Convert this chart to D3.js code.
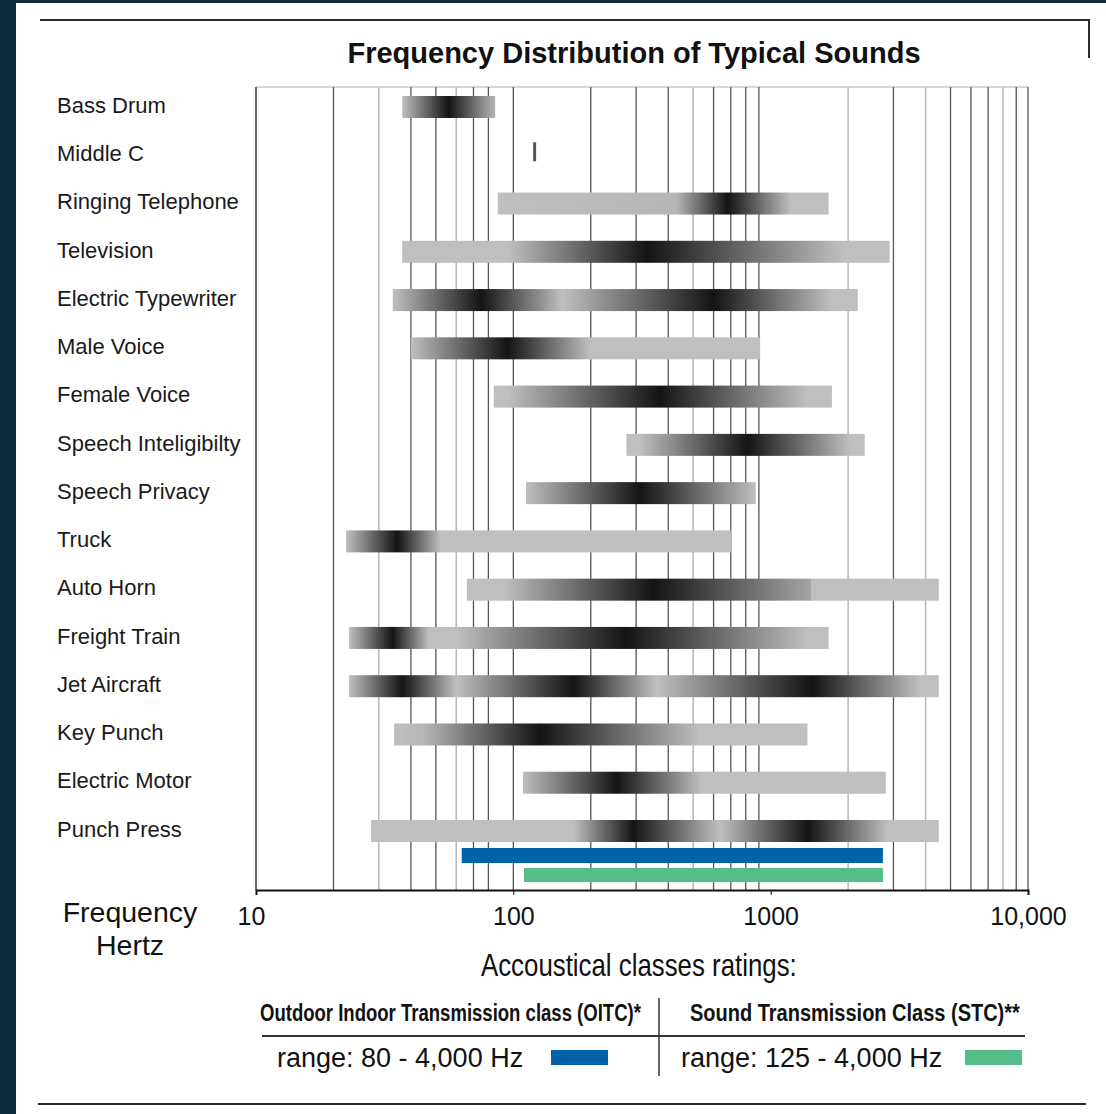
<!DOCTYPE html>
<html>
<head>
<meta charset="utf-8">
<script src="https://cdn.jsdelivr.net/npm/d3@7"></script>
<style>
  html, body { margin: 0; padding: 0; background: #0f2b40; }
  svg { display: block; font-family: 'Liberation Sans', Arial, Helvetica, sans-serif; }
</style>
</head>
<body>
<svg id="chart" width="1106" height="1114"></svg>
<script>
// sound sources, top to bottom
const sounds = [
    'Bass Drum', 'Middle C', 'Ringing Telephone', 'Television', 'Electric Typewriter',
    'Male Voice', 'Female Voice', 'Speech Inteligibilty', 'Speech Privacy', 'Truck',
    'Auto Horn', 'Freight Train', 'Jet Aircraft', 'Key Punch', 'Electric Motor', 'Punch Press'
];
// frequency span of each bar (Hz)
const lowHz = [37, 121, 87, 37, 34, 40, 84, 275, 112, 22.4, 66, 23, 23, 34.4, 109, 28];
const highHz = [85, 121, 1680, 2900, 2180, 910, 1730, 2320, 875, 705, 4500, 1680, 4500, 1390, 2800, 4500];
// [Hz, darkness 0..1] along each bar
const shading = [
    [[37, 0], [56, 1], [85, 0.05]],
    [],
    [[87, 0], [430, 0.05], [680, 1], [1200, 0], [1680, 0]],
    [[37, 0], [95, 0], [330, 1], [1920, 0], [2900, 0]],
    [[34, 0], [75, 1], [155, 0], [600, 1], [1710, 0], [2180, 0]],
    [[40, 0], [95, 1], [200, 0], [910, 0]],
    [[84, 0], [95, 0], [370, 1], [1390, 0], [1730, 0]],
    [[275, 0], [310, 0], [814, 1], [2040, 0], [2320, 0]],
    [[112, 0], [312, 1], [875, 0]],
    [[22.4, 0], [35.4, 1], [52, 0], [705, 0]],
    [[66, 0], [92, 0], [350, 1], [1430, 0.15], [1440, 0], [4500, 0]],
    [[23, 0], [34, 1], [47, 0], [60, 0], [273, 1], [1400, 0], [1680, 0]],
    [[23, 0], [37, 1], [60, 0], [171, 1], [360, 0], [1450, 1], [2850, 0.3], [3800, 0], [4500, 0]],
    [[34.4, 0], [45, 0.05], [127, 1], [530, 0], [1390, 0]],
    [[109, 0], [254, 1], [540, 0], [2800, 0]],
    [[28, 0], [171, 0], [293, 1], [636, 0], [1393, 1], [2850, 0], [4500, 0]]
];

// acoustical class ratings
const ratingNames = ['Outdoor Indoor Transmission class (OITC)*', 'Sound Transmission Class (STC)**'];
const ratingRanges = ['range: 80 - 4,000 Hz', 'range: 125 - 4,000 Hz'];
const ratingLowHz = [63, 110];
const ratingHighHz = [2730, 2730];
const ratingColors = ['#0063a8', '#55bd88'];

// vertical grid
const gridDarkHz = [20, 40, 50, 70, 80, 100, 200, 300, 400, 600, 700, 800, 900, 3000, 5000, 6000, 7000, 9000, 10000];
const gridLightHz = [30, 60, 500, 2000, 4000, 8000];
const tickHz = [10, 100, 1000, 10000];
const tickLabels = ['10', '100', '1000', '10,000'];

const svg = d3.select('#chart');

// squeeze a text horizontally to a given width (no condensed face installed)
function condense(sel, width) {
    sel.each(function() {
        const natural = this.getComputedTextLength();
        const x0 = +this.getAttribute('x');
        const k = width / natural;
        this.setAttribute('transform', `translate(${x0 * (1 - k)}, 0) scale(${k}, 1)`);
    });
}

// white panel on dark backdrop
svg.append('rect')
    .attr('x', 16)
    .attr('y', 3)
    .attr('width', 1090)
    .attr('height', 1111)
    .attr('fill', '#ffffff');

// frame lines
svg.append('path')
    .attr('d', 'M40,20H1089V58')
    .attr('fill', 'none')
    .attr('stroke', '#2a2a2a')
    .attr('stroke-width', 2);
svg.append('line')
    .attr('x1', 38).attr('x2', 1086)
    .attr('y1', 1104).attr('y2', 1104)
    .attr('stroke', '#2a2a2a')
    .attr('stroke-width', 2);

svg.append('text')
    .attr('x', 634)
    .attr('y', 63)
    .attr('text-anchor', 'middle')
    .attr('font-size', 29)
    .attr('font-weight', 'bold')
    .attr('fill', '#111')
    .text('Frequency Distribution of Typical Sounds');

const plot = {left: 256, right: 1028, top: 87, bottom: 890};

const x = d3.scaleLog()
    .domain([10, 10000])
    .range([plot.left, plot.right]);

const y = d3.scalePoint()
    .domain(sounds)
    .range([107, 831]);

const defs = svg.append('defs');
const shade = d3.interpolateRgb('#bfbfbf', '#141414');

// grid
const grid = svg.append('g');
grid.append('line')
    .attr('x1', plot.left).attr('x2', plot.right)
    .attr('y1', plot.top).attr('y2', plot.top)
    .attr('stroke', '#c8c8c8')
    .attr('stroke-width', 1.5);
grid.selectAll('line.light')
  .data(gridLightHz)
  .enter()
  .append('line')
    .classed('light', true)
    .attr('x1', (d) => x(d)).attr('x2', (d) => x(d))
    .attr('y1', plot.top).attr('y2', plot.bottom)
    .attr('stroke', '#b8b8b8')
    .attr('stroke-width', 1.5);
grid.selectAll('line.dark')
  .data(gridDarkHz)
  .enter()
  .append('line')
    .classed('dark', true)
    .attr('x1', (d) => x(d)).attr('x2', (d) => x(d))
    .attr('y1', plot.top).attr('y2', plot.bottom)
    .attr('stroke', '#555')
    .attr('stroke-width', 1.3);
grid.append('line')
    .attr('x1', plot.left).attr('x2', plot.left)
    .attr('y1', plot.top).attr('y2', plot.bottom)
    .attr('stroke', '#666')
    .attr('stroke-width', 2);

// row labels
svg.append('g')
  .selectAll('text')
  .data(sounds)
  .enter()
  .append('text')
    .attr('x', 57)
    .attr('y', (d) => y(d) - 2)
    .attr('dy', '0.35em')
    .attr('font-size', 22)
    .attr('fill', '#1a1a1a')
    .text((d) => d);

// one gradient per bar, offsets measured on the log axis
sounds.forEach((name, i) => {
    if (!shading[i].length) return;
    const x0 = x(lowHz[i]);
    const x1 = x(highHz[i]);
    const gradient = defs.append('linearGradient')
        .attr('id', `shade-${i}`)
        .attr('x1', '0%').attr('x2', '100%')
        .attr('y1', '0%').attr('y2', '0%');
    shading[i].forEach(([hz, dark]) => {
        gradient.append('stop')
            .attr('offset', Math.max(0, Math.min(1, (x(hz) - x0) / (x1 - x0))))
            .attr('stop-color', shade(dark));
    });
});

const bars = svg.append('g');
sounds.forEach((name, i) => {
    if (lowHz[i] === highHz[i]) {
        // single pitch
        bars.append('rect')
            .attr('x', x(lowHz[i]) - 1.5)
            .attr('y', y(name) - 13)
            .attr('width', 3)
            .attr('height', 19)
            .attr('fill', '#555');
        return;
    }
    bars.append('rect')
        .attr('x', x(lowHz[i]))
        .attr('y', y(name) - 11)
        .attr('width', x(highHz[i]) - x(lowHz[i]))
        .attr('height', 22)
        .attr('fill', `url(#shade-${i})`);
});

// rating bars under the last row
const ratingY = [848, 868];
const ratingH = [15, 14];
bars.selectAll('rect.rating')
  .data(ratingNames)
  .enter()
  .append('rect')
    .classed('rating', true)
    .attr('x', (d, i) => x(ratingLowHz[i]))
    .attr('y', (d, i) => ratingY[i])
    .attr('width', (d, i) => x(ratingHighHz[i]) - x(ratingLowHz[i]))
    .attr('height', (d, i) => ratingH[i])
    .attr('fill', (d, i) => ratingColors[i]);

// axis
const axis = svg.append('g')
    .attr('transform', `translate(0, ${plot.bottom})`)
    .call(d3.axisBottom(x)
        .tickValues(tickHz)
        .tickFormat((d, i) => tickLabels[i])
        .tickSize(5)
        .tickPadding(12));
axis.select('.domain')
    .attr('stroke', '#111')
    .attr('stroke-width', 2);
axis.selectAll('.tick line').attr('stroke', '#111');
axis.selectAll('.tick text')
    .attr('font-family', "'Liberation Sans', Arial, sans-serif")
    .attr('font-size', 25)
    .attr('fill', '#111')
    .attr('dx', (d) => d === 10 ? -5 : 0);

svg.append('text')
    .attr('x', 130)
    .attr('y', 922)
    .attr('text-anchor', 'middle')
    .attr('font-size', 28.5)
    .attr('fill', '#111')
    .text('Frequency');
svg.append('text')
    .attr('x', 130)
    .attr('y', 955)
    .attr('text-anchor', 'middle')
    .attr('font-size', 28.5)
    .attr('fill', '#111')
    .text('Hertz');

// legend
svg.append('text')
    .attr('x', 481)
    .attr('y', 976)
    .attr('font-size', 31)
    .attr('fill', '#111')
    .text('Accoustical classes ratings:')
    .call(condense, 316);

const legend = svg.append('g');
legend.append('line')
    .attr('x1', 262).attr('x2', 1025)
    .attr('y1', 1036).attr('y2', 1036)
    .attr('stroke', '#333')
    .attr('stroke-width', 2);
legend.append('line')
    .attr('x1', 659).attr('x2', 659)
    .attr('y1', 998).attr('y2', 1076)
    .attr('stroke', '#333')
    .attr('stroke-width', 1.5);

const headX = [260, 690];
const headW = [381, 330];
const rangeX = [277, 681];
const swatchX = [551, 965];
legend.selectAll('text.head')
  .data(ratingNames)
  .enter()
  .append('text')
    .classed('head', true)
    .attr('x', (d, i) => headX[i])
    .attr('y', 1021)
    .attr('font-size', 24)
    .attr('font-weight', 'bold')
    .attr('fill', '#111')
    .text((d) => d)
    .each(function(d, i) {
        d3.select(this).call(condense, headW[i]);
    });
legend.selectAll('text.range')
  .data(ratingRanges)
  .enter()
  .append('text')
    .classed('range', true)
    .attr('x', (d, i) => rangeX[i])
    .attr('y', 1067)
    .attr('font-size', 27)
    .attr('fill', '#111')
    .text((d) => d);
legend.selectAll('rect')
  .data(ratingColors)
  .enter()
  .append('rect')
    .attr('x', (d, i) => swatchX[i])
    .attr('y', 1050)
    .attr('width', 57)
    .attr('height', 15)
    .attr('fill', (d) => d);
</script>
</body>
</html>
